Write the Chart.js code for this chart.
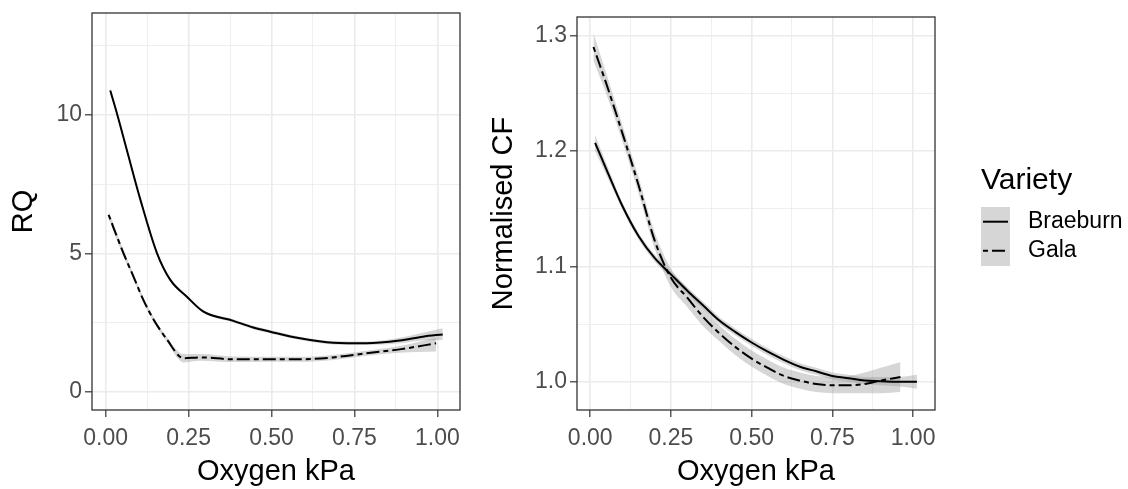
<!DOCTYPE html>
<html>
<head>
<meta charset="utf-8">
<script src="https://cdn.jsdelivr.net/npm/chart.js@4.4.1/dist/chart.umd.min.js"></script>
<style>
  html, body { margin: 0; padding: 0; background: #fff; }
  #wrap { position: relative; width: 1128px; height: 489px; }
  #rq-chart { position: absolute; left: 0; top: 0; }
  #cf-chart { position: absolute; left: 480px; top: 0; }
</style>
</head>
<body>
<div id="wrap">
  <canvas id="rq-chart" width="480" height="489"></canvas>
  <canvas id="cf-chart" width="648" height="489"></canvas>
</div>
<script>
// ---- data ----
const varieties = ["Braeburn", "Gala"];

// RQ panel
const rqBraeX = [0.014, 0.034, 0.064, 0.105, 0.155, 0.195, 0.245, 0.295, 0.385, 0.445, 0.496, 0.586, 0.686, 0.786, 0.886, 0.956, 1.016];
const rqBraeY = [10.88, 10.06, 8.73, 6.93, 5.00, 4.04, 3.43, 2.89, 2.56, 2.32, 2.17, 1.93, 1.77, 1.75, 1.85, 1.99, 2.07];
const rqBraeLo = [10.75, 9.98, 8.66, 6.87, 4.95, 3.99, 3.38, 2.84, 2.50, 2.26, 2.11, 1.87, 1.71, 1.69, 1.75, 1.85, 1.87];
const rqBraeHi = [11.01, 10.14, 8.80, 6.99, 5.05, 4.09, 3.48, 2.94, 2.62, 2.38, 2.23, 1.99, 1.83, 1.81, 1.95, 2.13, 2.29];

const rqGalaX = [0.009, 0.054, 0.084, 0.114, 0.144, 0.184, 0.235, 0.285, 0.385, 0.486, 0.586, 0.686, 0.786, 0.886, 0.996];
const rqGalaY = [6.39, 5.00, 4.16, 3.31, 2.62, 1.90, 1.21, 1.24, 1.17, 1.17, 1.17, 1.24, 1.39, 1.53, 1.75];
const rqGalaLo = [6.25, 4.88, 4.06, 3.22, 2.53, 1.81, 1.06, 1.12, 1.07, 1.08, 1.08, 1.15, 1.30, 1.41, 1.45];
const rqGalaHi = [6.53, 5.12, 4.26, 3.40, 2.71, 1.99, 1.36, 1.36, 1.27, 1.26, 1.26, 1.33, 1.48, 1.65, 1.95];

// Normalised CF panel
const cfBraeX = [0.015, 0.05, 0.10, 0.15, 0.20, 0.25, 0.30, 0.35, 0.40, 0.45, 0.50, 0.55, 0.60, 0.65, 0.70, 0.75, 0.80, 0.85, 0.90, 0.95, 1.012];
const cfBraeY = [1.207, 1.184, 1.152, 1.126, 1.107, 1.093, 1.079, 1.066, 1.053, 1.043, 1.034, 1.026, 1.019, 1.013, 1.009, 1.005, 1.003, 1.001, 1.0005, 1.000, 1.000];
const cfBraeLo = [1.200, 1.179, 1.149, 1.123, 1.104, 1.090, 1.076, 1.063, 1.050, 1.040, 1.031, 1.023, 1.016, 1.010, 1.006, 1.002, 1.000, 0.998, 0.997, 0.996, 0.994];
const cfBraeHi = [1.214, 1.189, 1.155, 1.129, 1.110, 1.096, 1.082, 1.069, 1.056, 1.046, 1.037, 1.029, 1.022, 1.016, 1.012, 1.008, 1.006, 1.004, 1.004, 1.004, 1.006];

const cfGalaX = [0.010, 0.05, 0.10, 0.15, 0.20, 0.25, 0.30, 0.35, 0.40, 0.45, 0.50, 0.55, 0.60, 0.65, 0.70, 0.75, 0.80, 0.85, 0.90, 0.961];
const cfGalaY = [1.290, 1.258, 1.215, 1.170, 1.122, 1.090, 1.073, 1.056, 1.042, 1.030, 1.020, 1.012, 1.005, 1.001, 0.998, 0.997, 0.997, 0.998, 1.001, 1.004];
const cfGalaLo = [1.278, 1.249, 1.208, 1.163, 1.115, 1.082, 1.065, 1.048, 1.035, 1.023, 1.013, 1.005, 0.998, 0.994, 0.991, 0.990, 0.990, 0.990, 0.990, 0.991];
const cfGalaHi = [1.302, 1.267, 1.222, 1.177, 1.129, 1.098, 1.081, 1.064, 1.049, 1.037, 1.027, 1.019, 1.012, 1.008, 1.005, 1.004, 1.005, 1.008, 1.012, 1.017];

// ticks
const xMajor = [0, 0.25, 0.5, 0.75, 1];
const xMinor = [0.125, 0.375, 0.625, 0.875];
const rqMajor = [0, 5, 10];
const rqMinor = [2.5, 7.5, 12.5];
const cfMajor = [1.0, 1.1, 1.2, 1.3];
const cfMinor = [1.05, 1.15, 1.25];

// ---- styling ----
const FONT = "'Liberation Sans', Arial, sans-serif";
const BAND = "rgba(153,153,153,0.4)";
const DASH = [5, 4, 13, 4];

function pts(xs, ys) {
  return xs.map((x, i) => ({ x: x, y: ys[i] }));
}

function band(xs, lo, hi) {
  const base = { pointRadius: 0, borderWidth: 0, borderColor: "rgba(0,0,0,0)", cubicInterpolationMode: "monotone" };
  return [
    Object.assign({ data: pts(xs, lo), fill: false }, base),
    Object.assign({ data: pts(xs, hi), fill: "-1", backgroundColor: BAND }, base),
  ];
}

function curve(xs, ys, dash) {
  return {
    data: pts(xs, ys),
    borderColor: "#000",
    borderWidth: 2,
    borderDash: dash,
    pointRadius: 0,
    fill: false,
    cubicInterpolationMode: "monotone",
  };
}

function axis(opts) {
  const all = opts.major.concat(opts.minor).sort((a, b) => a - b);
  const horiz = opts.horiz;
  return {
    type: "linear",
    min: opts.min,
    max: opts.max,
    afterBuildTicks: (s) => {
      s.ticks = all.map((v) => ({ value: v }));
    },
    afterFit: (s) => {
      if (horiz) {
        s.height = opts.size;
        s.paddingLeft = 0;
        s.paddingRight = 0;
      } else {
        s.width = opts.size;
        s.paddingTop = 0;
        s.paddingBottom = 0;
      }
    },
    border: { display: false },
    grid: {
      color: "#ebebeb",
      lineWidth: (c) => (opts.major.includes(c.tick && c.tick.value) ? 1.6 : 0.8),
      tickColor: (c) => (opts.major.includes(c.tick && c.tick.value) ? "#333333" : "rgba(0,0,0,0)"),
      tickWidth: 1.2,
      tickLength: 7,
    },
    ticks: {
      autoSkip: false,
      maxRotation: 0,
      padding: horiz ? 8 : 3,
      color: "#4d4d4d",
      font: { family: FONT, size: 23 },
      callback: (v) => (opts.major.includes(v) ? v.toFixed(opts.digits) : ""),
    },
    title: {
      display: true,
      text: opts.title,
      color: "#000",
      font: { family: FONT, size: 29 },
      padding: horiz ? { top: 0, bottom: 0 } : { top: 7, bottom: 0 },
    },
  };
}

const panelBorder = {
  id: "panelBorder",
  afterDraw(chart) {
    const { ctx, chartArea: a } = chart;
    ctx.save();
    ctx.strokeStyle = "#333333";
    ctx.lineWidth = 1.3;
    ctx.strokeRect(a.left, a.top, a.right - a.left, a.bottom - a.top);
    ctx.restore();
  },
};

const varietyLegend = {
  id: "varietyLegend",
  afterDraw(chart) {
    const ctx = chart.ctx;
    const x0 = chart.chartArea.right + 46;
    ctx.save();
    ctx.fillStyle = "#000";
    ctx.textBaseline = "middle";
    ctx.textAlign = "left";
    ctx.font = "30px " + FONT;
    ctx.fillText("Variety", x0, 181);

    ctx.fillStyle = BAND;
    ctx.fillRect(x0, 207, 29, 59);

    const rows = [221.7, 250.7];
    ctx.strokeStyle = "#000";
    ctx.lineWidth = 2;
    rows.forEach((y, i) => {
      ctx.setLineDash(i === 0 ? [] : DASH);
      ctx.beginPath();
      ctx.moveTo(x0 + 2, y);
      ctx.lineTo(x0 + 27, y);
      ctx.stroke();
    });
    ctx.setLineDash([]);
    ctx.fillStyle = "#000";
    ctx.font = "23px " + FONT;
    rows.forEach((y, i) => ctx.fillText(varieties[i], x0 + 47, y));
    ctx.restore();
  },
};

function makeChart(id, datasets, yAxis, pad) {
  return new Chart(document.getElementById(id), {
    type: "line",
    data: { datasets: datasets },
    options: {
      responsive: false,
      animation: false,
      devicePixelRatio: 1,
      layout: { padding: pad },
      plugins: {
        legend: { display: false },
        tooltip: { enabled: false },
        filler: { drawTime: "beforeDatasetsDraw" },
      },
      scales: {
        x: axis({ horiz: true, min: -0.041, max: 1.068, major: xMajor, minor: xMinor, digits: 2, size: 79, title: "Oxygen kPa" }),
        y: yAxis,
      },
    },
    plugins: id === "cf-chart" ? [panelBorder, varietyLegend] : [panelBorder],
  });
}

makeChart(
  "rq-chart",
  [].concat(
    band(rqBraeX, rqBraeLo, rqBraeHi),
    band(rqGalaX, rqGalaLo, rqGalaHi),
    [curve(rqBraeX, rqBraeY, []), curve(rqGalaX, rqGalaY, DASH)]
  ),
  axis({ horiz: false, min: -0.66, max: 13.68, major: rqMajor, minor: rqMinor, digits: 0, size: 92, title: "RQ" }),
  { top: 13, right: 20, bottom: 0, left: 0 }
);

makeChart(
  "cf-chart",
  [].concat(
    band(cfBraeX, cfBraeLo, cfBraeHi),
    band(cfGalaX, cfGalaLo, cfGalaHi),
    [curve(cfBraeX, cfBraeY, []), curve(cfGalaX, cfGalaY, DASH)]
  ),
  axis({ horiz: false, min: 0.9755, max: 1.316, major: cfMajor, minor: cfMinor, digits: 1, size: 97, title: "Normalised CF" }),
  { top: 17, right: 193, bottom: 0, left: 0 }
);
</script>
</body>
</html>
